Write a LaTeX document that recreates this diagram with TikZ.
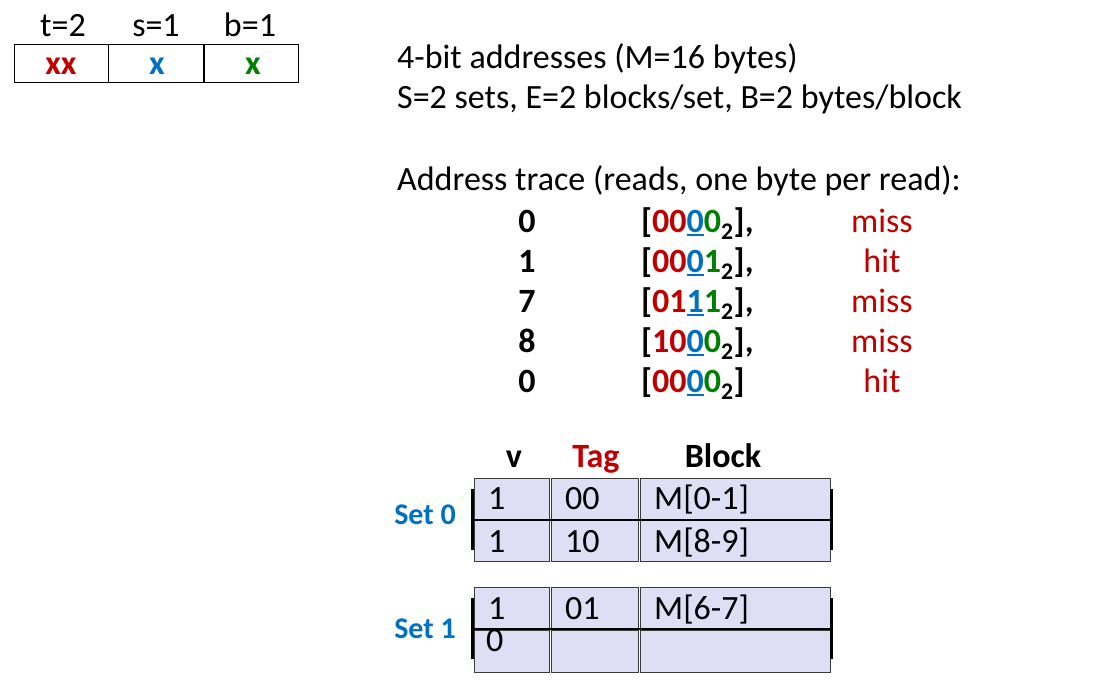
\documentclass[tikz,border=0pt]{standalone}
\usepackage{fontspec}
\setmainfont{Carlito}
\definecolor{cred}{HTML}{C00000}
\definecolor{cblue}{HTML}{0070C0}
\definecolor{cgreen}{HTML}{008000}
\definecolor{cfill}{HTML}{DEDEF4}
\definecolor{cedge}{HTML}{3A3A3A}
\newcommand{\tagbits}[1]{\textcolor{cred}{#1}}
\newcommand{\setbits}[1]{\textcolor{cblue}{\setbox0\hbox{#1}\rlap{\rule[-3.5pt]{\wd0}{2pt}}\box0}}
\newcommand{\offbits}[1]{\textcolor{cgreen}{#1}}
\newcommand{\addr}[4]{\textbf{[\tagbits{#1#2}\setbits{#3}\offbits{#4}\textsubscript{2}]}}
\begin{document}
\begin{tikzpicture}[x=1pt,y=-1pt,
  txt/.style={inner sep=0pt, font=\fontsize{34}{40}\selectfont},
  setlbl/.style={inner sep=0pt, font=\fontsize{30}{36}\selectfont\bfseries, text=cblue, anchor=base},
  fieldbox/.style={draw=black, line width=1.2, minimum height=38, inner sep=0pt},
  cellbox/.style={draw=cedge, fill=cfill, line width=1.2, inner sep=0pt, anchor=north west},
  bar/.style={line width=3.2, black},
  res/.style={txt, text=cred, anchor=base}]
\useasboundingbox (0,0) rectangle (1101,682);

% address field box
\node[fieldbox, minimum width=94, anchor=north west] (ft) at (14,44) {};
\node[fieldbox, minimum width=95, anchor=north west] (fs) at (108,44) {};
\node[fieldbox, minimum width=94, anchor=north west] (fb) at (204,44) {};
\draw[line width=2.4] (fs.north east) -- (fs.south east);
\node[txt, anchor=base] (lt) at (63,37) {t=2};
\node[txt, anchor=base] (ls) at (156,37) {s=1};
\node[txt, anchor=base] (lb) at (250,37) {b=1};
\node[txt, anchor=base, text=cred] (xt) at (61,75) {\textbf{xx}};
\node[txt, anchor=base, text=cblue] (xs) at (157,75) {\textbf{x}};
\node[txt, anchor=base, text=cgreen] (xb) at (253,75) {\textbf{x}};

% description
\node[txt, anchor=base west] (d1) at (397,69) {4-bit addresses (M=16 bytes)};
\node[txt, anchor=base west] (d2) at (397,109) {S=2 sets, E=2 blocks/set, B=2 bytes/block};
\node[txt, anchor=base west] (d3) at (397,190) {Address trace (reads, one byte per read):};

% trace
\node[txt, anchor=base] (n1) at (527,232) {\textbf{0}};
\node[txt, anchor=base] (n2) at (527,272) {\textbf{1}};
\node[txt, anchor=base] (n3) at (527,312) {\textbf{7}};
\node[txt, anchor=base] (n4) at (527,352) {\textbf{8}};
\node[txt, anchor=base] (n5) at (527,392) {\textbf{0}};
\node[txt, anchor=base west] (a1) at (641,232) {\addr{0}{0}{0}{0}\textbf{,}};
\node[txt, anchor=base west] (a2) at (641,272) {\addr{0}{0}{0}{1}\textbf{,}};
\node[txt, anchor=base west] (a3) at (641,312) {\addr{0}{1}{1}{1}\textbf{,}};
\node[txt, anchor=base west] (a4) at (641,352) {\addr{1}{0}{0}{0}\textbf{,}};
\node[txt, anchor=base west] (a5) at (641,392) {\addr{0}{0}{0}{0}};
\node[res] (r1) at (882,232) {miss};
\node[res] (r2) at (882,272) {hit};
\node[res] (r3) at (882,312) {miss};
\node[res] (r4) at (882,352) {miss};
\node[res] (r5) at (882,392) {hit};

% table header
\node[txt, anchor=base] (hv) at (514,467) {\textbf{v}};
\node[txt, anchor=base, text=cred] (htag) at (596,467) {\textbf{Tag}};
\node[txt, anchor=base] (hblk) at (723,467) {\textbf{Block}};

% set 0
\node[cellbox, minimum width=75, minimum height=41] (a00v) at (474,478) {};
\node[cellbox, minimum width=87, minimum height=41] (a00t) at (551,478) {};
\node[cellbox, minimum width=190, minimum height=41] (a00b) at (640,478) {};
\node[cellbox, minimum width=75, minimum height=41] (a01v) at (474,520) {};
\node[cellbox, minimum width=87, minimum height=41] (a01t) at (551,520) {};
\node[cellbox, minimum width=190, minimum height=41] (a01b) at (640,520) {};
\draw[line width=2] (a00v.south west) -- (a00b.south east);
\coordinate (s0lt) at (472.5,489);
\coordinate (s0lb) at (472.5,550);
\coordinate (s0rt) at (831.5,489);
\coordinate (s0rb) at (831.5,550);
\draw[bar] (s0lt) -- (s0lb);
\draw[bar] (s0rt) -- (s0rb);
\node[txt, anchor=base west] (c00v) at (488,509) {1};
\node[txt, anchor=base west] (c00t) at (565,509) {00};
\node[txt, anchor=base west] (c00b) at (654,509) {M[0-1]};
\node[txt, anchor=base west] (c01v) at (488,552) {1};
\node[txt, anchor=base west] (c01t) at (565,552) {10};
\node[txt, anchor=base west] (c01b) at (654,552) {M[8-9]};
\node[setlbl] (set0) at (425,524) {Set 0};

% set 1
\node[cellbox, minimum width=75, minimum height=41] (a10v) at (474,587) {};
\node[cellbox, minimum width=87, minimum height=41] (a10t) at (551,587) {};
\node[cellbox, minimum width=190, minimum height=41] (a10b) at (640,587) {};
\node[cellbox, minimum width=75, minimum height=42] (a11v) at (474,629.5) {};
\node[cellbox, minimum width=87, minimum height=42] (a11t) at (551,629.5) {};
\node[cellbox, minimum width=190, minimum height=42] (a11b) at (640,629.5) {};
\draw[line width=2] (a10v.south west) -- (a10b.south east);
\coordinate (s1lt) at (472.5,598);
\coordinate (s1lb) at (472.5,659);
\coordinate (s1rt) at (831.5,598);
\coordinate (s1rb) at (831.5,659);
\draw[bar] (s1lt) -- (s1lb);
\draw[bar] (s1rt) -- (s1rb);
\node[txt, anchor=base west] (c10v) at (488,619) {1};
\node[txt, anchor=base west] (c10t) at (565,619) {01};
\node[txt, anchor=base west] (c10b) at (654,619) {M[6-7]};
\node[txt, anchor=base west] (c11v) at (486,651) {0};
\node[setlbl] (set1) at (425,638) {Set 1};
\end{tikzpicture}
\end{document}
